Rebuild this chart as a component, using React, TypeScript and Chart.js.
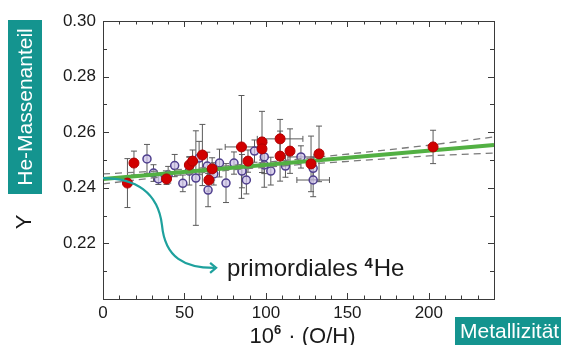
import React, { useEffect, useRef } from 'react';
import { Chart, registerables } from 'chart.js';

Chart.register(...registerables);

const FONT = '"Liberation Sans", Arial, sans-serif';

// ---- Data ----
const xTickValues = [0, 50, 100, 150, 200];
const yTickValues = [0.22, 0.24, 0.26, 0.28, 0.3];

const redX = [15, 19, 39, 53, 55, 61, 65, 67, 85, 89, 97.6, 97.6, 108.7, 108.7, 114.8, 127.7, 132.6, 202.6];
const redY = [0.2417, 0.2489, 0.2432, 0.2482, 0.2496, 0.2518, 0.2428, 0.2468, 0.2547, 0.2496, 0.2565, 0.254, 0.2576, 0.2514, 0.2532, 0.2486, 0.2522, 0.2547];
const redYErr = [0.0088, 0.0043, 0.002, 0.003, 0.004, 0.011, 0.004, 0.004, 0.0185, 0.004, 0.011, 0.004, 0.007, 0.009, 0.008, 0.01, 0.01, 0.006];
const redXErr = [0, 0, 0, 0, 0, 0, 0, 0, 10, 0, 0, 0, 14, 0, 0, 0, 0, 0];

const purX = [27, 31, 34, 40, 44, 49, 53, 57, 59, 64, 64.5, 68, 71.5, 75.5, 80.4, 85.3, 88, 93, 99, 99, 103, 112, 121.5, 129, 129];
const purY = [0.2504, 0.2453, 0.2432, 0.2447, 0.248, 0.2416, 0.246, 0.2435, 0.2507, 0.2478, 0.2392, 0.245, 0.2489, 0.2417, 0.2489, 0.246, 0.2428, 0.2532, 0.2511, 0.2482, 0.246, 0.2478, 0.2511, 0.2428, 0.247];
const purYErr = [0.0052, 0.003, 0.002, 0.003, 0.004, 0.003, 0.005, 0.017, 0.006, 0.005, 0.006, 0.004, 0.005, 0.007, 0.004, 0.006, 0.005, 0.004, 0.006, 0.008, 0.005, 0.004, 0.004, 0.006, 0.004];
const purXErr = [0, 0, 0, 0, 0, 0, 0, 0, 0, 0, 0, 0, 0, 0, 0, 0, 0, 0, 0, 0, 0, 0, 8, 10, 0];

const fitX = [0, 240];
const fitY = [0.2432, 0.2554];

const bandX = [0, 40, 80, 120, 160, 200, 240];
const bandUpper = [0.245, 0.2462, 0.2481, 0.2503, 0.2527, 0.2553, 0.2583];
const bandLower = [0.2414, 0.2442, 0.2465, 0.2483, 0.2499, 0.2515, 0.2525];

// teal arrow path in data units: start, then two cubic segments (cp1, cp2, end)
const arrowStart = [0, 0.2435];
const arrowSegs = [
  [[19.6, 0.2435], [33.8, 0.2385], [36.2, 0.2266]],
  [[38.1, 0.2147], [50.4, 0.2112], [68.2, 0.2112]],
];

const TEAL_BOX = '#14948f';
const TEAL_LINE = '#1ea19d';

const toPts = (xs: number[], ys: number[]) => xs.map((x, i) => ({ x, y: ys[i] }));

const decorPlugin = {
  id: 'decor',
  beforeDatasetsDraw(chart: any) {
    const { ctx, scales } = chart;
    const xs = scales.x, ys = scales.y;
    const drawErr = (X: number[], Y: number[], YE: number[], XE: number[]) => {
      ctx.save();
      ctx.strokeStyle = '#5a5a5a';
      ctx.lineWidth = 1;
      for (let i = 0; i < X.length; i++) {
        const px = xs.getPixelForValue(X[i]);
        const py = ys.getPixelForValue(Y[i]);
        if (YE[i] > 0) {
          const t = ys.getPixelForValue(Y[i] + YE[i]);
          const b = ys.getPixelForValue(Y[i] - YE[i]);
          ctx.beginPath();
          ctx.moveTo(px, t); ctx.lineTo(px, b);
          ctx.moveTo(px - 3, t); ctx.lineTo(px + 3, t);
          ctx.moveTo(px - 3, b); ctx.lineTo(px + 3, b);
          ctx.stroke();
        }
        if (XE[i] > 0) {
          const l = xs.getPixelForValue(X[i] - XE[i]);
          const r = xs.getPixelForValue(X[i] + XE[i]);
          ctx.beginPath();
          ctx.moveTo(l, py); ctx.lineTo(r, py);
          ctx.moveTo(l, py - 3); ctx.lineTo(l, py + 3);
          ctx.moveTo(r, py - 3); ctx.lineTo(r, py + 3);
          ctx.stroke();
        }
      }
      ctx.restore();
    };
    drawErr(purX, purY, purYErr, purXErr);
    drawErr(redX, redY, redYErr, redXErr);
  },
  afterDatasetsDraw(chart: any) {
    const { ctx, scales, chartArea } = chart;
    const xs = scales.x, ys = scales.y;
    const { left, right, top, bottom } = chartArea;
    ctx.save();
    // frame
    ctx.strokeStyle = '#3a3a3a';
    ctx.lineWidth = 1;
    ctx.strokeRect(Math.round(left) + 0.5, Math.round(top) + 0.5, Math.round(right - left), Math.round(bottom - top));
    // ticks
    ctx.beginPath();
    for (let v = 0; v <= 240; v += 10) {
      const px = Math.round(xs.getPixelForValue(v)) + 0.5;
      const len = v % 50 === 0 ? 6 : 3.5;
      ctx.moveTo(px, bottom); ctx.lineTo(px, bottom - len);
      ctx.moveTo(px, top); ctx.lineTo(px, top + len);
    }
    for (let k = 20; k <= 30; k++) {
      const v = k / 100;
      const py = Math.round(ys.getPixelForValue(v)) + 0.5;
      const len = k % 2 === 0 ? 6 : 4;
      ctx.moveTo(left, py); ctx.lineTo(left + len, py);
      ctx.moveTo(right, py); ctx.lineTo(right - len, py);
    }
    ctx.stroke();

    // teal curved arrow
    ctx.strokeStyle = TEAL_LINE;
    ctx.lineWidth = 2.2;
    ctx.beginPath();
    ctx.moveTo(xs.getPixelForValue(arrowStart[0]), ys.getPixelForValue(arrowStart[1]));
    for (const seg of arrowSegs) {
      const p = seg.map(([a, b]) => [xs.getPixelForValue(a), ys.getPixelForValue(b)]);
      ctx.bezierCurveTo(p[0][0], p[0][1], p[1][0], p[1][1], p[2][0], p[2][1]);
    }
    ctx.stroke();
    const last = arrowSegs[arrowSegs.length - 1][2];
    const tx = xs.getPixelForValue(last[0]) + 2;
    const ty = ys.getPixelForValue(last[1]);
    ctx.beginPath();
    ctx.moveTo(tx - 6, ty - 5);
    ctx.lineTo(tx, ty);
    ctx.lineTo(tx - 6, ty + 5);
    ctx.stroke();

    // annotation text
    ctx.fillStyle = '#1a1a1a';
    ctx.textBaseline = 'alphabetic';
    ctx.textAlign = 'left';
    ctx.font = `24px ${FONT}`;
    let x0 = 227;
    const by = 276;
    const t1 = 'primordiales ';
    ctx.fillText(t1, x0, by);
    x0 += ctx.measureText(t1).width;
    ctx.font = `bold 15px ${FONT}`;
    ctx.fillText('4', x0, by - 8);
    x0 += ctx.measureText('4').width + 1;
    ctx.font = `24px ${FONT}`;
    ctx.fillText('He', x0, by);

    // x-axis title
    const a = '10', sup = '6', b = ' · (O/H)';
    ctx.font = `22px ${FONT}`;
    const wa = ctx.measureText(a).width;
    const wb = ctx.measureText(b).width;
    ctx.font = `bold 13px ${FONT}`;
    const ws = ctx.measureText(sup).width;
    const total = wa + ws + 1 + wb;
    let cx = (left + right) / 2 - total / 2 + 4;
    const tby = 343;
    ctx.font = `22px ${FONT}`;
    ctx.fillText(a, cx, tby);
    cx += wa;
    ctx.font = `bold 13px ${FONT}`;
    ctx.fillText(sup, cx, tby - 9);
    cx += ws + 1;
    ctx.font = `22px ${FONT}`;
    ctx.fillText(b, cx, tby);

    // Y title
    ctx.save();
    ctx.translate(25, 222);
    ctx.rotate(-Math.PI / 2);
    ctx.textAlign = 'center';
    ctx.textBaseline = 'middle';
    ctx.font = `22px ${FONT}`;
    ctx.fillText('Y', 0, 0);
    ctx.restore();

    // teal box vertical
    ctx.fillStyle = TEAL_BOX;
    ctx.fillRect(8, 20, 34, 174);
    ctx.save();
    ctx.translate(26, 107);
    ctx.rotate(-Math.PI / 2);
    ctx.textAlign = 'center';
    ctx.textBaseline = 'middle';
    ctx.fillStyle = '#ffffff';
    ctx.font = `21px ${FONT}`;
    ctx.fillText('He-Massenanteil', 0, 0);
    ctx.restore();

    // teal box bottom-right
    ctx.fillStyle = TEAL_BOX;
    ctx.fillRect(455, 317, 106, 28);
    ctx.fillStyle = '#ffffff';
    ctx.textAlign = 'left';
    ctx.textBaseline = 'middle';
    ctx.font = `21px ${FONT}`;
    ctx.fillText('Metallizität', 460, 332);
    ctx.restore();
  },
};

export default function App() {
  const ref = useRef<HTMLCanvasElement>(null);
  useEffect(() => {
    const canvas = ref.current;
    if (!canvas) return;
    const chart = new Chart(canvas, {
      type: 'scatter',
      data: {
        datasets: [
          {
            label: 'lower-metal',
            data: toPts(purX, purY),
            pointRadius: 4,
            pointBorderWidth: 1.5,
            pointBorderColor: '#4f3f8e',
            pointBackgroundColor: 'rgba(205,195,232,0.75)',
            order: 5,
          },
          {
            label: 'upper band',
            data: toPts(bandX, bandUpper),
            showLine: true,
            borderColor: '#7a7a7a',
            borderWidth: 1.3,
            borderDash: [7, 5],
            pointRadius: 0,
            order: 4,
          },
          {
            label: 'lower band',
            data: toPts(bandX, bandLower),
            showLine: true,
            borderColor: '#7a7a7a',
            borderWidth: 1.3,
            borderDash: [7, 5],
            pointRadius: 0,
            order: 4,
          },
          {
            label: 'fit',
            data: toPts(fitX, fitY),
            showLine: true,
            borderColor: '#52b043',
            borderWidth: 4,
            pointRadius: 0,
            order: 2,
          },
          {
            label: 'red',
            data: toPts(redX, redY),
            pointRadius: 5,
            pointBorderWidth: 1,
            pointBorderColor: '#b00000',
            pointBackgroundColor: '#d10000',
            order: 1,
          },
        ],
      },
      options: {
        responsive: false,
        animation: false,
        events: [],
        layout: { padding: { left: 0, right: 67, top: 21, bottom: 0 } },
        plugins: { legend: { display: false }, tooltip: { enabled: false }, title: { display: false } },
        scales: {
          x: {
            type: 'linear',
            min: 0,
            max: 240,
            afterBuildTicks: (s: any) => { s.ticks = xTickValues.map((v) => ({ value: v })); },
            afterFit: (s: any) => { s.height = 46; },
            grid: { display: false, drawTicks: false },
            border: { display: false },
            ticks: {
              padding: 4,
              color: '#1a1a1a',
              font: { family: FONT, size: 17 },
              callback: (v: any) => String(v),
            },
          },
          y: {
            type: 'linear',
            min: 0.2,
            max: 0.3,
            afterBuildTicks: (s: any) => { s.ticks = yTickValues.map((v) => ({ value: v })); },
            afterFit: (s: any) => { s.width = 103; },
            grid: { display: false, drawTicks: false },
            border: { display: false },
            ticks: {
              padding: 7,
              color: '#1a1a1a',
              font: { family: FONT, size: 17 },
              callback: (v: any) => Number(v).toFixed(2),
            },
          },
        },
      },
      plugins: [decorPlugin],
    } as any);
    return () => chart.destroy();
  }, []);
  return (
    <div style={{ position: 'fixed', left: 0, top: 0, width: 561, height: 345, background: '#fff' }}>
      <canvas ref={ref} width={561} height={345} style={{ display: 'block' }} />
    </div>
  );
}
